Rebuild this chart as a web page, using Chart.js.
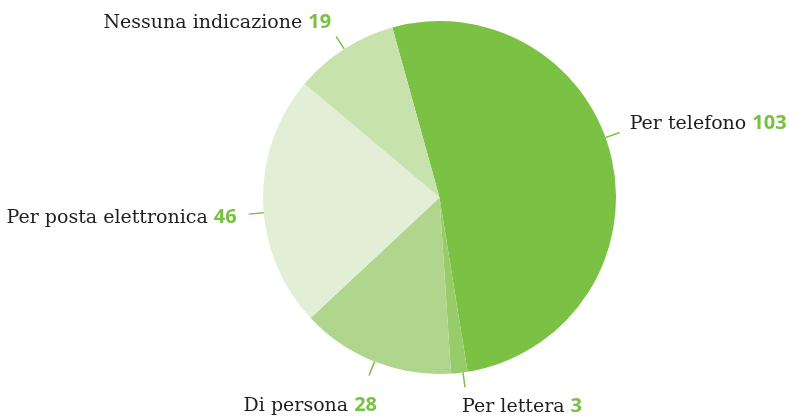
<!DOCTYPE html>
<html>
<head>
<meta charset="utf-8">
<script src="https://cdn.jsdelivr.net/npm/chart.js@4/dist/chart.umd.min.js"></script>
<style>
  html, body { margin: 0; padding: 0; background: #fff; }
  canvas { display: block; }
</style>
</head>
<body>
<canvas id="pieChart" width="790" height="416"></canvas>
<script>
const categories = ["Per telefono", "Per lettera", "Di persona", "Per posta elettronica", "Nessuna indicazione"];
const counts = [103, 3, 28, 46, 19];

const sliceColors = ["#7bc143", "#98cc6a", "#b0d58c", "#e2efd6", "#c8e2ae"];

// where each label sits relative to the end of its leader line
const labelLayout = [
  { angleShift: -7.5, align: "left", dx: 10, dy: -4 },
  { angleShift: -1.2, align: "left", dx: -3, dy: 25 },
  { angleShift: 0, align: "right", dx: 8, dy: 35 },
  { angleShift: -3.5, align: "right", dx: -12, dy: 9 },
  { angleShift: 0, align: "right", dx: -5, dy: -8 },
];

const nameFont = "19px 'DejaVu Serif'";
const valueFont = "bold 20px 'Open Sans'";

const leaderLabels = {
  id: "leaderLabels",
  afterDraw(chart) {
    const ctx = chart.ctx;
    const arcs = chart.getDatasetMeta(0).data;
    arcs.forEach((arc, i) => {
      const p = arc.getProps(["x", "y", "startAngle", "endAngle", "outerRadius"], true);
      const layout = labelLayout[i];
      const mid = (p.startAngle + p.endAngle) / 2 + layout.angleShift * Math.PI / 180;
      const r0 = p.outerRadius;
      const r1 = p.outerRadius + 15;
      const x0 = p.x + Math.cos(mid) * r0;
      const y0 = p.y + Math.sin(mid) * r0;
      const x1 = p.x + Math.cos(mid) * r1;
      const y1 = p.y + Math.sin(mid) * r1;

      ctx.save();
      ctx.strokeStyle = "#7bc143";
      ctx.lineWidth = 1.5;
      ctx.beginPath();
      ctx.moveTo(x0, y0);
      ctx.lineTo(x1, y1);
      ctx.stroke();

      const name = categories[i] + " ";
      const value = String(counts[i]);
      ctx.font = nameFont;
      const nameW = ctx.measureText(name).width;
      ctx.font = valueFont;
      const valueW = ctx.measureText(value).width;
      const total = nameW + valueW;

      let tx = x1 + layout.dx;
      if (layout.align === "right") tx -= total;
      const ty = y1 + layout.dy;

      ctx.textBaseline = "alphabetic";
      ctx.textAlign = "left";
      ctx.font = nameFont;
      ctx.fillStyle = "#1f1f1f";
      ctx.fillText(name, tx, ty);
      ctx.font = valueFont;
      ctx.fillStyle = "#79c043";
      ctx.fillText(value, tx + nameW, ty);
      ctx.restore();
    });
  },
};

new Chart(document.getElementById("pieChart"), {
  type: "pie",
  data: {
    labels: categories,
    datasets: [
      {
        data: counts,
        backgroundColor: sliceColors,
        borderWidth: 0,
      },
    ],
  },
  options: {
    responsive: false,
    animation: false,
    rotation: -15.5,
    layout: {
      padding: { top: 21, bottom: 42, left: 89, right: 0 },
    },
    plugins: {
      legend: { display: false },
      tooltip: { enabled: false },
    },
  },
  plugins: [leaderLabels],
});
</script>
</body>
</html>
